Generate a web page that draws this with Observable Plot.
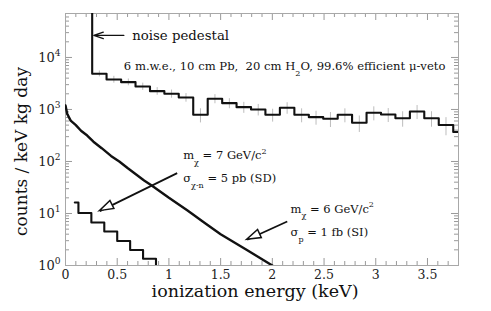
<!DOCTYPE html>
<html><head><meta charset="utf-8">
<script src="https://cdn.jsdelivr.net/npm/d3@7"></script>
<script src="https://cdn.jsdelivr.net/npm/@observablehq/plot@0.6"></script>
<style>html,body{margin:0;background:#fff} svg{display:block}</style>
</head><body><div id="chart"></div>
<script>
// ---- background histogram (6 m.w.e. site) ----
const bgEdges = [0.258, 0.397, 0.538, 0.677, 0.817, 0.956, 1.095, 1.235, 1.375, 1.515, 1.654, 1.794, 1.933,
                 2.073, 2.213, 2.353, 2.492, 2.632, 2.771, 2.911, 3.051, 3.190, 3.330, 3.469, 3.609, 3.749, 3.888];
const bgCounts = [4860, 3775, 3350, 2770, 2250, 2005, 1700, 791, 1607, 1322, 1107, 1000, 791,
                  1078, 791, 711, 662, 791, 555, 864, 801, 680, 915, 680, 504, 369];
const bgErr = [630, 570, 500, 440, 380, 360, 320, 240, 320, 290, 265, 250, 220,
               270, 237, 213, 212, 237, 194, 260, 240, 224, 275, 224, 192, 155];
const pedestalTop = 1e6;   // noise pedestal runs off the top of the chart

// ---- WIMP signal m=7 GeV, 5 pb (SD) histogram ----
const sdEdges = [0.09, 0.125, 0.25, 0.375, 0.5, 0.625, 0.75, 0.875];
const sdCounts = [16.3, 10.2, 6.7, 4.5, 2.96, 1.99, 1.35];
const belowAxis = 0.5;

// ---- WIMP signal m=6 GeV, 1 fb (SI) spectrum ----
const siEnergy = [0, 0.016, 0.05, 0.10, 0.15, 0.21, 0.27, 0.35, 0.44, 0.52, 0.60, 0.68, 0.76, 0.83, 1.0, 1.18, 1.34, 1.50, 1.75, 2.0];
const siCounts = [1194, 830, 610, 500, 390, 315, 240, 180, 128, 100, 75, 57, 43, 35, 20, 11.4, 6.7, 4.0, 2.0, 1.0];

// ---- axes ----
const xTicks = [0, 0.5, 1, 1.5, 2, 2.5, 3, 3.5];
const xTickLabels = ["0", "0.5", "1", "1.5", "2", "2.5", "3", "3.5"];
const yTicks = [1, 10, 100, 1000, 10000];
const yTickLabels = ["10^{0}", "10^{1}", "10^{2}", "10^{3}", "10^{4}"];
const xLabel = "ionization energy (keV)";
const yLabel = "counts / keV kg day";

// ---- annotations ----
const notes = [
  {x: 0.645, y: 26500, text: "noise pedestal", size: 13.3},
  {x: 0.564, y: 6710, text: "6 m.w.e., 10 cm Pb,  20 cm H_{2}O, 99.6% efficient μ-veto", size: 11.6},
  {x: 1.138, y: 130, text: "m_{χ} = 7 GeV/c^{2}", size: 11.5},
  {x: 1.138, y: 47, text: "σ_{χ-n} = 5 pb (SD)", size: 11.5},
  {x: 2.176, y: 12.3, text: "m_{χ} = 6 GeV/c^{2}", size: 11.5},
  {x: 2.176, y: 4.37, text: "σ_{p} = 1 fb (SI)", size: 11.5}
];
const pedestalArrow = [{x1: 0.564, y1: 26500, x2: 0.274, y2: 26500}];
const triArrows = [
  {x1: 1.080, y1: 59.6, x2: 0.332, y2: 11.1},
  {x1: 2.144, y1: 7.0, x2: 1.757, y2: 3.12}
];

const W = 491, H = 311, mL = 65, mR = 33, mT = 13, mB = 46;
const iw = W - mL - mR, ih = H - mT - mB;

const bgLine = [{x: bgEdges[0], y: pedestalTop}]
  .concat(bgCounts.map((c, i) => ({x: bgEdges[i], y: c})))
  .concat([{x: bgEdges[bgEdges.length - 1], y: bgCounts[bgCounts.length - 1]}]);
const bgBars = bgCounts.map((c, i) => ({x: (bgEdges[i] + bgEdges[i + 1]) / 2, lo: c - bgErr[i], hi: c + bgErr[i]}));
const sdLine = sdCounts.map((c, i) => ({x: sdEdges[i], y: c}))
  .concat([{x: sdEdges[sdEdges.length - 1], y: belowAxis}]);
const siLine = siEnergy.map((e, i) => ({x: e, y: siCounts[i]}));

const xMinor = d3.range(0, 3.8001, 0.1).map(v => +v.toFixed(2)).filter(v => !xTicks.includes(v));
const yMinor = [];
for (const d of [1, 10, 100, 1000, 10000]) for (let k = 2; k <= 9; k++) if (d * k <= 7e4) yMinor.push(d * k);

const tickC = "#9a9a9a";
const plot = Plot.plot({
  width: W, height: H,
  marginLeft: mL, marginRight: mR, marginTop: mT, marginBottom: mB,
  style: {fontFamily: "DejaVu Serif", background: "white", color: "#111", overflow: "visible"},
  x: {domain: [0, 3.8], axis: null},
  y: {type: "log", domain: [1, 7e4], axis: null},
  marks: [
    // ticks (inward, all four sides)
    Plot.ruleX(xTicks, {x: d => d, insetTop: ih - 7, stroke: tickC}),
    Plot.ruleX(xMinor, {x: d => d, insetTop: ih - 4, stroke: tickC}),
    Plot.ruleX(xTicks, {x: d => d, insetBottom: ih - 7, stroke: tickC}),
    Plot.ruleX(xMinor, {x: d => d, insetBottom: ih - 4, stroke: tickC}),
    Plot.ruleY(yTicks, {y: d => d, insetRight: iw - 7, stroke: tickC}),
    Plot.ruleY(yMinor, {y: d => d, insetRight: iw - 4, stroke: tickC}),
    Plot.ruleY(yTicks, {y: d => d, insetLeft: iw - 7, stroke: tickC}),
    Plot.ruleY(yMinor, {y: d => d, insetLeft: iw - 4, stroke: tickC}),
    Plot.frame({stroke: "#a8a8a8"}),
    // error bars
    Plot.ruleX(bgBars, {x: "x", y1: "lo", y2: "hi", stroke: "#bdbdbd", strokeWidth: 1, clip: true}),
    // data
    Plot.line(bgLine, {x: "x", y: "y", curve: "step-after", stroke: "#111", strokeWidth: 2.1, clip: true}),
    Plot.line(sdLine, {x: "x", y: "y", curve: "step-after", stroke: "#111", strokeWidth: 2.1, clip: true}),
    Plot.line(siLine, {x: "x", y: "y", curve: "linear", stroke: "#111", strokeWidth: 2.4, clip: true}),
    // arrows
    Plot.arrow(pedestalArrow, {x1: "x1", y1: "y1", x2: "x2", y2: "y2", stroke: "#111", strokeWidth: 1.3, headLength: 13, headAngle: 38}),
    Plot.link(triArrows, {x1: "x1", y1: "y1", x2: "x2", y2: "y2", stroke: "#111", strokeWidth: 1.8}),
    // tick labels
    Plot.text(xTicks, {x: d => d, text: (d, i) => xTickLabels[i], frameAnchor: "bottom", dy: 13, fontSize: 12.5, fill: "#222"}),
    Plot.text(yTicks, {y: d => d, text: (d, i) => yTickLabels[i], frameAnchor: "left", textAnchor: "end", dx: -5, fontSize: 13, fill: "#222"}),
    // axis titles
    Plot.text([xLabel], {text: d => d, frameAnchor: "bottom", dx: -7, dy: 31, fontSize: 17.5, fill: "#111"}),
    Plot.text([yLabel], {text: d => d, frameAnchor: "left", textAnchor: "middle", rotate: -90, dx: -44, dy: 12, fontSize: 17, fill: "#111"}),
    // annotations
    ...notes.map(n => Plot.text([n], {x: "x", y: "y", text: "text", textAnchor: "start", fontSize: n.size, fill: "#111"}))
  ]
});
document.getElementById("chart").appendChild(plot);

// sub/superscript markup -> tspans (keeps text as real text)
function richify(root) {
  root.querySelectorAll("text").forEach(el => {
    const s = el.textContent;
    if (!/[_^]\{/.test(s)) return;
    let fs = parseFloat(getComputedStyle(el).fontSize);
    if (!isFinite(fs)) fs = 12;
    const parts = s.split(/([_^]\{[^}]*\})/).filter(p => p.length);
    el.textContent = "";
    let offset = 0;
    for (const p of parts) {
      const t = document.createElementNS("http://www.w3.org/2000/svg", "tspan");
      let target = 0, txt = p, small = false;
      if (p.startsWith("_{")) { target = 0.5 * fs; txt = p.slice(2, -1); small = true; }
      else if (p.startsWith("^{")) { target = -0.45 * fs; txt = p.slice(2, -1); small = true; }
      t.setAttribute("dy", (target - offset).toFixed(2));
      offset = target;
      if (small) t.setAttribute("font-size", (fs * 0.7).toFixed(1));
      t.textContent = txt;
      el.appendChild(t);
    }
  });
}
richify(plot);

// hollow triangular arrowheads, placed through the plot's own scales
const sx = plot.scale("x"), sy = plot.scale("y");
const g = d3.select(plot).append("g").attr("aria-label", "arrowheads");
for (const a of triArrows) {
  const tx = sx.apply(a.x2), ty = sy.apply(a.y2);
  const bx = sx.apply(a.x1), by = sy.apply(a.y1);
  const len = Math.hypot(bx - tx, by - ty), ux = (bx - tx) / len, uy = (by - ty) / len;
  const L = 14, w = 4.5;
  const cx = tx + ux * L, cy = ty + uy * L;
  g.append("polygon")
    .attr("points", [[tx, ty], [cx - uy * w, cy + ux * w], [cx + uy * w, cy - ux * w]].map(p => p.join(",")).join(" "))
    .attr("fill", "white").attr("stroke", "#111").attr("stroke-width", 1.5).attr("stroke-linejoin", "miter");
}
</script>
</body></html>
